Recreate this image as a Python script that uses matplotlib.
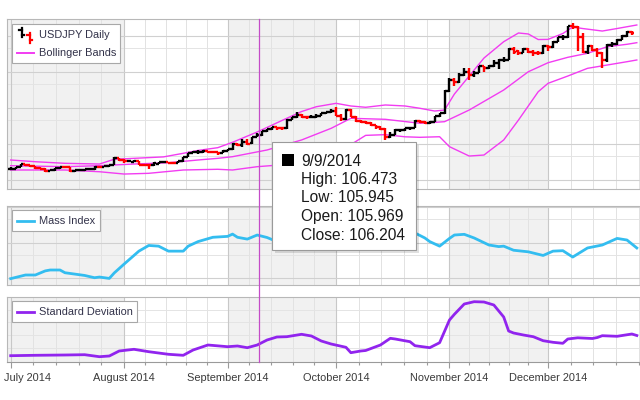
import matplotlib
matplotlib.use("Agg")
import matplotlib.pyplot as plt
from matplotlib.lines import Line2D
from matplotlib.patches import Rectangle
from matplotlib.transforms import blended_transform_factory
import numpy as np
import pandas as pd

plt.rcParams['font.family'] = ['Liberation Sans', 'DejaVu Sans']

# ---------------- data ----------------
dates = pd.bdate_range("2014-07-01", "2014-12-25")

# USDJPY daily bars, 1 Jul .. 24 Dec 2014
opens = [101.52, 101.55, 101.78, 102.20, 102.06, 101.88, 101.62, 101.58, 101.30, 101.34,
         101.60, 101.78, 101.76, 101.28, 101.36, 101.38, 101.48, 101.50, 101.86, 101.80,
         101.90, 102.08, 103.00,
         102.80, 102.58, 102.55, 102.62, 102.13, 102.10, 102.02, 102.26, 102.44, 102.45,
         102.38, 102.35, 102.58, 103.19, 103.76, 103.83, 103.92, 103.96, 103.89, 103.86,
         103.73,
         104.07, 104.24, 105.07, 104.80, 105.28, 105.08, 105.969, 106.204, 106.79, 107.11,
         107.35, 107.20, 107.19, 108.40, 108.72, 109.03, 108.75, 108.70, 108.80, 108.95,
         109.28, 109.47,
         109.65, 108.95, 108.50, 109.75, 108.78, 108.15, 108.12, 107.85, 107.60, 107.35,
         107.10, 105.95, 106.30, 106.90, 106.95, 107.20, 107.28, 108.20, 108.12, 107.85,
         108.10, 108.90, 109.25,
         112.30, 113.95, 113.60, 114.65, 115.00, 114.60, 114.85, 115.80, 115.50, 115.80,
         116.25, 116.60, 116.70, 118.20, 117.85, 117.70, 118.20, 117.80, 117.70, 117.60,
         118.65, 118.45, 119.20, 119.80, 119.80, 121.40, 121.30, 119.85, 117.75, 118.65,
         118.00, 117.60, 116.70, 118.70, 118.90, 119.50, 120.00, 120.60]
highs = [101.75, 101.84, 102.27, 102.25, 102.12, 101.95, 101.75, 101.62, 101.45, 101.65,
         101.82, 101.82, 101.78, 101.40, 101.42, 101.55, 101.60, 101.95, 101.92, 101.95,
         102.12, 103.15, 103.08,
         102.85, 102.70, 102.75, 102.65, 102.20, 102.15, 102.45, 102.48, 102.55, 102.50,
         102.42, 102.65, 103.25, 103.80, 103.98, 104.10, 104.18, 104.05, 103.98, 103.90,
         104.10,
         104.35, 105.10, 105.20, 105.70, 105.70, 106.00, 106.473, 106.85, 107.15, 107.40,
         107.38, 107.25, 108.50, 108.80, 109.45, 109.10, 108.90, 109.00, 109.10, 109.35,
         109.50, 109.80,
         110.09, 109.20, 109.85, 109.80, 108.95, 108.30, 108.25, 108.00, 107.70, 107.50,
         107.20, 106.60, 107.10, 107.10, 107.25, 107.30, 108.40, 108.35, 108.15, 108.25,
         108.95, 109.35, 112.45,
         114.10, 114.20, 114.85, 115.50, 115.60, 115.10, 115.90, 115.85, 116.00, 116.70,
         116.80, 117.10, 118.35, 118.45, 118.10, 118.40, 118.30, 118.00, 117.95, 118.70,
         118.80, 119.30, 119.90, 120.20, 121.45, 121.85, 121.40, 120.40, 118.80, 118.70,
         118.40, 117.80, 118.95, 119.20, 119.60, 120.10, 120.75, 120.65]
lows = [101.40, 101.50, 101.74, 102.00, 101.82, 101.55, 101.50, 101.08, 101.20, 101.30,
        101.50, 101.60, 101.15, 101.10, 101.25, 101.30, 101.40, 101.45, 101.70, 101.75,
        101.85, 102.05, 102.70,
        102.30, 102.50, 102.50, 102.10, 101.95, 101.52, 101.98, 102.22, 102.35, 102.30,
        102.20, 102.30, 102.55, 103.15, 103.70, 103.65, 103.80, 103.75, 103.70, 103.50,
        103.70,
        104.00, 104.20, 104.70, 104.60, 104.80, 104.95, 105.945, 106.10, 106.60, 106.95,
        107.00, 106.90, 107.10, 108.30, 108.60, 108.60, 108.50, 108.65, 108.60, 108.90,
        109.15, 109.30,
        108.90, 108.25, 108.40, 108.70, 108.10, 107.90, 107.80, 107.50, 107.10, 106.90,
        105.50, 105.90, 106.20, 106.70, 106.80, 106.95, 107.20, 107.90, 107.75, 107.80,
        108.05, 108.80, 109.20,
        112.20, 113.10, 113.50, 114.40, 113.85, 114.30, 114.80, 115.00, 115.40, 115.70,
        115.45, 116.40, 116.60, 117.50, 117.40, 117.60, 117.60, 117.25, 117.35, 117.50,
        117.95, 118.40, 119.10, 119.45, 119.70, 120.95, 117.90, 117.70, 117.50, 117.90,
        117.10, 115.60, 116.40, 118.50, 118.80, 119.40, 119.90, 120.15]
closes = [101.55, 101.78, 102.20, 102.06, 101.88, 101.62, 101.58, 101.30, 101.34, 101.60,
          101.78, 101.76, 101.28, 101.36, 101.38, 101.48, 101.50, 101.86, 101.80, 101.90,
          102.08, 103.00, 102.80,
          102.58, 102.60, 102.62, 102.13, 102.10, 102.02, 102.43, 102.44, 102.45, 102.38,
          102.35, 102.58, 103.19, 103.76, 103.83, 103.92, 103.96, 103.89, 103.86, 103.73,
          104.07,
          104.24, 105.07, 104.80, 105.28, 105.04, 105.96, 106.204, 106.79, 107.11, 107.35,
          107.20, 107.19, 108.40, 108.72, 109.03, 108.75, 108.70, 108.80, 108.95, 109.28,
          109.47, 109.65,
          108.95, 108.50, 109.75, 108.78, 108.15, 108.12, 107.85, 107.60, 107.35, 107.10,
          105.95, 106.30, 106.90, 106.95, 107.20, 107.28, 108.20, 108.12, 107.85, 108.10,
          108.90, 109.25, 112.30,
          113.95, 113.60, 114.65, 115.00, 114.60, 114.85, 115.80, 115.50, 115.80, 116.25,
          116.60, 116.70, 118.20, 117.75, 117.70, 118.20, 117.80, 117.70, 117.60, 118.65,
          118.45, 119.20, 119.80, 119.80, 121.40, 121.30, 119.85, 117.75, 118.65, 118.00,
          117.60, 116.70, 118.70, 118.90, 119.50, 120.00, 120.60, 120.40]

# Bollinger Bands
bb_upper_days = ["07-01", "07-08", "07-16", "07-25", "07-30", "08-05", "08-13", "08-19",
                 "08-22", "08-28", "09-02", "09-09", "09-16", "09-22", "09-25", "10-01",
                 "10-06", "10-09", "10-15", "10-21", "10-24", "10-29", "10-31", "11-04",
                 "11-07", "11-12", "11-18", "11-21", "11-25", "11-27", "12-01", "12-04",
                 "12-08", "12-10", "12-16", "12-19", "12-25"]
bb_upper = [102.78, 102.54, 102.32, 102.22, 102.88, 103.01, 103.21, 103.71,
            104.11, 104.49, 105.24, 106.67, 108.26, 109.51, 110.18, 110.65,
            110.28, 110.10, 110.42, 110.28, 109.96, 109.58, 109.72, 111.94,
            114.44, 116.94, 119.21, 120.42, 120.28, 119.51, 119.53, 120.35,
            121.25, 121.04, 120.69, 121.04, 121.53]
bb_mid_days = ["07-01", "07-16", "07-25", "08-05", "08-14", "08-22", "08-28", "09-02",
               "09-11", "09-22", "09-30", "10-06", "10-15", "10-24", "10-31", "11-07",
               "11-18", "11-25", "12-01", "12-05", "12-11", "12-17", "12-23", "12-25"]
bb_mid = [101.99, 101.85, 101.99, 102.22, 102.40, 102.78, 103.01, 103.24,
          104.17, 105.56, 107.18, 108.57, 108.43, 107.88, 108.10, 109.72,
          112.50, 115.04, 116.29, 117.04, 117.60, 118.51, 118.85, 119.07]
bb_lower_days = ["07-01", "07-16", "07-25", "08-01", "08-08", "08-19", "08-28", "09-02",
                 "09-09", "09-22", "09-30", "10-03", "10-09", "10-15", "10-21", "10-24",
                 "10-30", "11-03", "11-07", "11-12", "11-18", "11-21", "11-27", "12-01",
                 "12-05", "12-11", "12-17", "12-23", "12-25"]
bb_lower = [101.39, 101.39, 101.15, 100.83, 100.93, 101.39, 101.49, 101.39,
            101.85, 102.32, 103.24, 104.50, 106.20, 106.30, 106.00, 105.93,
            106.01, 104.63, 103.33, 103.47, 105.56, 108.33, 112.26, 113.43,
            114.44, 115.51, 115.97, 116.43, 116.67]

# Mass Index
mass_days = ["07-01", "07-04", "07-08", "07-10", "07-11", "07-15", "07-16", "07-22",
             "07-24", "07-25", "07-29", "07-30", "08-01", "08-06", "08-08", "08-12",
             "08-14", "08-19", "08-20", "08-22", "08-27", "09-01", "09-02", "09-03",
             "09-05", "09-09", "09-11", "09-12", "09-17", "09-23", "09-29", "10-03",
             "10-09", "10-15", "10-21", "10-23", "10-27", "10-28", "10-30", "11-03",
             "11-04", "11-06", "11-10", "11-13", "11-17", "11-18", "11-20", "11-25",
             "11-28", "12-02", "12-04", "12-08", "12-11", "12-16", "12-19", "12-23",
             "12-25"]
mass_index = [24.42, 24.58, 24.58, 24.76, 24.80, 24.80, 24.68, 24.56,
              24.46, 24.49, 24.43, 24.67, 25.06, 25.63, 25.88, 25.85,
              25.63, 25.63, 25.85, 26.05, 26.24, 26.28, 26.38, 26.24,
              26.16, 26.34, 26.23, 26.14, 26.05, 26.20, 26.30, 26.10,
              26.25, 26.20, 26.35, 26.43, 26.21, 26.05, 25.85, 26.19,
              26.34, 26.37, 26.21, 25.90, 25.83, 25.85, 25.67, 25.60,
              25.44, 25.63, 25.65, 25.37, 25.77, 25.90, 26.19, 26.12,
              25.77]

# Standard Deviation
std_days = ["07-01", "07-08", "07-16", "07-22", "07-25", "07-29", "07-31", "08-05",
            "08-08", "08-14", "08-19", "08-21", "08-26", "09-01", "09-03", "09-05",
            "09-09", "09-11", "09-15", "09-17", "09-22", "09-24", "09-26", "09-30",
            "10-03", "10-06", "10-08", "10-09", "10-14", "10-16", "10-17", "10-22",
            "10-23", "10-28", "10-30", "11-03", "11-04", "11-06", "11-10", "11-12",
            "11-14", "11-18", "11-19", "11-20", "11-24", "11-26", "11-28", "12-02",
            "12-04", "12-05", "12-09", "12-12", "12-15", "12-16", "12-19", "12-24",
            "12-25"]
std_dev = [0.30, 0.32, 0.335, 0.35, 0.25, 0.285, 0.535, 0.62,
           0.50, 0.37, 0.32, 0.585, 0.835, 0.75, 0.785, 0.70,
           0.835, 1.085, 1.235, 1.25, 1.37, 1.285, 1.035, 0.885,
           0.72, 0.45, 0.535, 0.56, 0.835, 1.17, 1.135, 1.00,
           0.80, 0.70, 0.95, 2.085, 2.37, 2.885, 3.00, 2.985,
           2.835, 2.235, 1.535, 1.435, 1.335, 1.25, 1.05, 0.97,
           0.92, 1.135, 1.195, 1.16, 1.21, 1.30, 1.27, 1.385,
           1.31]

month_labels = ["July 2014", "August 2014", "September 2014", "October 2014",
                "November 2014", "December 2014"]
tip_day = "2014-09-09"

# horizontal grid levels of each pane (major, minor)
price_major = [100, 105, 110, 115, 120]
price_minor = [98.33, 103.33, 108.33, 113.33, 118.33]
mass_major = [24.43, 26.0, 27.57]
mass_minor = [25.47, 27.04]
std_grid = [0.70, 1.335, 1.97, 2.585]

# ---------------- helpers ----------------
W, H = 640, 400
PX_DAY = 4.93      # pixels per trading day
X0 = 10.7          # pixel of first trading day
SMALL = 7.9        # legend / axis label font size
TXT = "#3a3a3a"


def fx(px):
    return px / W


def fy(py):
    return 1 - py / H


def day_pos(days):
    return dates.get_indexer(pd.to_datetime(["2014-" + d for d in days]))


fig = plt.figure(figsize=(6.4, 4.0), dpi=100)
fig.patch.set_facecolor("white")

# month starts in trading-day units (plus January for the last minor ticks)
axis_days = pd.bdate_range("2014-07-01", "2015-01-05")
month_pos = [i for i in range(len(axis_days))
             if i == 0 or axis_days[i].month != axis_days[i - 1].month][:7]


def pane(top, bottom, major, minor_lv):
    ax = fig.add_axes([fx(7.3), fy(bottom), fx(641) - fx(7.3), fy(top) - fy(bottom)])
    ax.set_xlim((7.3 - X0) / PX_DAY, (641 - X0) / PX_DAY)
    ax.set_facecolor("white")
    for s in ax.spines.values():
        s.set_color("#b8b8b8")
        s.set_linewidth(0.8)
    ax.tick_params(length=0, labelbottom=False, labelleft=False)
    xl = ax.get_xlim()
    for k in range(0, 6, 2):
        a = month_pos[k] if k > 0 else xl[0]
        ax.axvspan(a, month_pos[k + 1], color="#f1f1f1", lw=0, zorder=0)
    for k in range(6):
        step = (month_pos[k + 1] - month_pos[k]) / 5
        for j in range(1, 5):
            ax.axvline(month_pos[k] + j * step, color="#e2e2e2", lw=0.7, zorder=0.5)
        ax.axvline(month_pos[k], color="#c8c8c8", lw=0.8, zorder=0.6)
    for v in major:
        ax.axhline(v, color="#d0d0d0", lw=0.8, zorder=0.6)
    for v in minor_lv:
        ax.axhline(v, color="#e4e4e4", lw=0.7, zorder=0.5)
    return ax


# ---------------- price pane ----------------
ax_p = pane(19.3, 189.3, price_major, price_minor)
ax_p.set_ylim(98.71, 122.32)

o = np.array(opens)
h = np.array(highs)
l = np.array(lows)
c = np.array(closes)
xi = np.arange(len(c))
cols = np.where(c >= o, "#000000", "#ff0000")
ax_p.vlines(xi, l, h, colors=cols, lw=1.7, zorder=3)
ax_p.hlines(o, xi - 0.5, xi, colors=cols, lw=1.7, zorder=3)
ax_p.hlines(c, xi, xi + 0.5, colors=cols, lw=1.7, zorder=3)

band_col = "#f23cf2"
ax_p.plot(day_pos(bb_upper_days), bb_upper, color=band_col, lw=1.0, zorder=2)
ax_p.plot(day_pos(bb_mid_days), bb_mid, color=band_col, lw=1.0, zorder=2)
ax_p.plot(day_pos(bb_lower_days), bb_lower, color=band_col, lw=1.0, zorder=2)

# ---------------- mass index pane ----------------
ax_m = pane(205.7, 285.0, mass_major, mass_minor)
ax_m.set_ylim(24.14, 27.63)
ax_m.plot(day_pos(mass_days), mass_index, color="#33bdf0", lw=2.0, zorder=2)

# ---------------- std dev pane ----------------
ax_s = pane(296.7, 361.7, [], std_grid)
ax_s.set_ylim(0.0, 3.25)
ax_s.plot(day_pos(std_days), std_dev, color="#9124ee", lw=2.0, zorder=2)
ax_s.spines["bottom"].set_color("#9a9a9a")

minor = []
for k in range(6):
    step = (month_pos[k + 1] - month_pos[k]) / 5
    minor += [month_pos[k] + j * step for j in range(1, 5)]
ax_s.set_xticks(month_pos[:6])
ax_s.set_xticks(minor, minor=True)
ax_s.tick_params(axis="x", which="major", direction="out", length=4.3, width=0.8,
                 color="#9a9a9a", labelbottom=False)
ax_s.tick_params(axis="x", which="minor", direction="out", length=2.3, width=0.8,
                 color="#9a9a9a")
ax_s.tick_params(axis="y", length=0)

tr = blended_transform_factory(ax_s.transData, fig.transFigure)
for k, lab in enumerate(month_labels):
    if k == 0:
        ax_s.text(ax_s.get_xlim()[0] - 0.7, fy(378), lab, transform=tr, ha="left",
                  va="center", fontsize=SMALL, color=TXT, clip_on=False)
    else:
        ax_s.text(month_pos[k], fy(378), lab, transform=tr, ha="center",
                  va="center", fontsize=SMALL, color=TXT, clip_on=False)

# ---------------- crosshair ----------------
tip_i = dates.get_loc(pd.Timestamp(tip_day))
xc = ax_p.transData.transform((tip_i + 0.35, 0))[0] / fig.bbox.width
fig.add_artist(Line2D([xc, xc], [fy(19.3), fy(361.7)], color="#c44cc8", lw=0.9, zorder=5))


# ---------------- legends ----------------
def legend_box(x0, y0, x1, y1):
    fig.add_artist(Rectangle((fx(x0), fy(y1)), fx(x1) - fx(x0), fy(y0) - fy(y1),
                             facecolor="white", edgecolor="#a8a8a8", lw=0.8, zorder=6))


def legend_text(x, y, s):
    fig.text(fx(x), fy(y), s, ha="left", va="center", fontsize=SMALL, color="#33334a",
             zorder=7)


def legend_line(y, col, lw):
    fig.add_artist(Line2D([fx(17), fx(34)], [fy(y), fy(y)], color=col, lw=lw, zorder=7))


legend_box(12.3, 24.3, 120, 63.3)
for (xv, y_lo, y_hi, y_o, y_c, col) in [(21.5, 27.5, 37.0, 29.5, 34.5, "#000000"),
                                          (29.8, 33.0, 42.5, 35.0, 40.0, "#ff0000")]:
    fig.add_artist(Line2D([fx(xv), fx(xv)], [fy(y_lo), fy(y_hi)], color=col, lw=1.6, zorder=7))
    fig.add_artist(Line2D([fx(xv - 2.5), fx(xv)], [fy(y_o), fy(y_o)], color=col, lw=1.6, zorder=7))
    fig.add_artist(Line2D([fx(xv), fx(xv + 2.5)], [fy(y_c), fy(y_c)], color=col, lw=1.6, zorder=7))
legend_text(39.3, 35, "USDJPY Daily")
legend_line(53, band_col, 1.4)
legend_text(39.3, 53, "Bollinger Bands")

legend_box(12.3, 210, 100, 231)
legend_line(220.7, "#33bdf0", 2.0)
legend_text(39.3, 220.7, "Mass Index")

legend_box(12.3, 301, 137.3, 322)
legend_line(311.7, "#9124ee", 2.0)
legend_text(39.3, 311.7, "Standard Deviation")

# ---------------- tooltip ----------------
ti = tip_i
fig.add_artist(Rectangle((fx(275), fy(253)), fx(416) - fx(272), fy(142) - fy(250),
                         facecolor="#000000", alpha=0.12, lw=0, zorder=8))
fig.add_artist(Rectangle((fx(272), fy(250)), fx(416) - fx(272), fy(142) - fy(250),
                         facecolor="white", edgecolor="#9a9a9a", lw=0.8, zorder=9))
fig.add_artist(Rectangle((fx(282), fy(166)), fx(12), fy(154) - fy(166),
                         facecolor="black", lw=0, zorder=10))
tip_lines = [pd.Timestamp(tip_day).strftime("%-m/%-d/%Y"),
             f"High: {highs[ti]:.3f}", f"Low: {lows[ti]:.3f}",
             f"Open: {opens[ti]:.3f}", f"Close: {closes[ti]:.3f}"]
for k, s in enumerate(tip_lines):
    fig.text(fx(301), fy(161 + k * 18.5), s, ha="left", va="center", fontsize=11.2,
             color="#1a1a1a", zorder=10)

fig.savefig("out.png", dpi=100)
